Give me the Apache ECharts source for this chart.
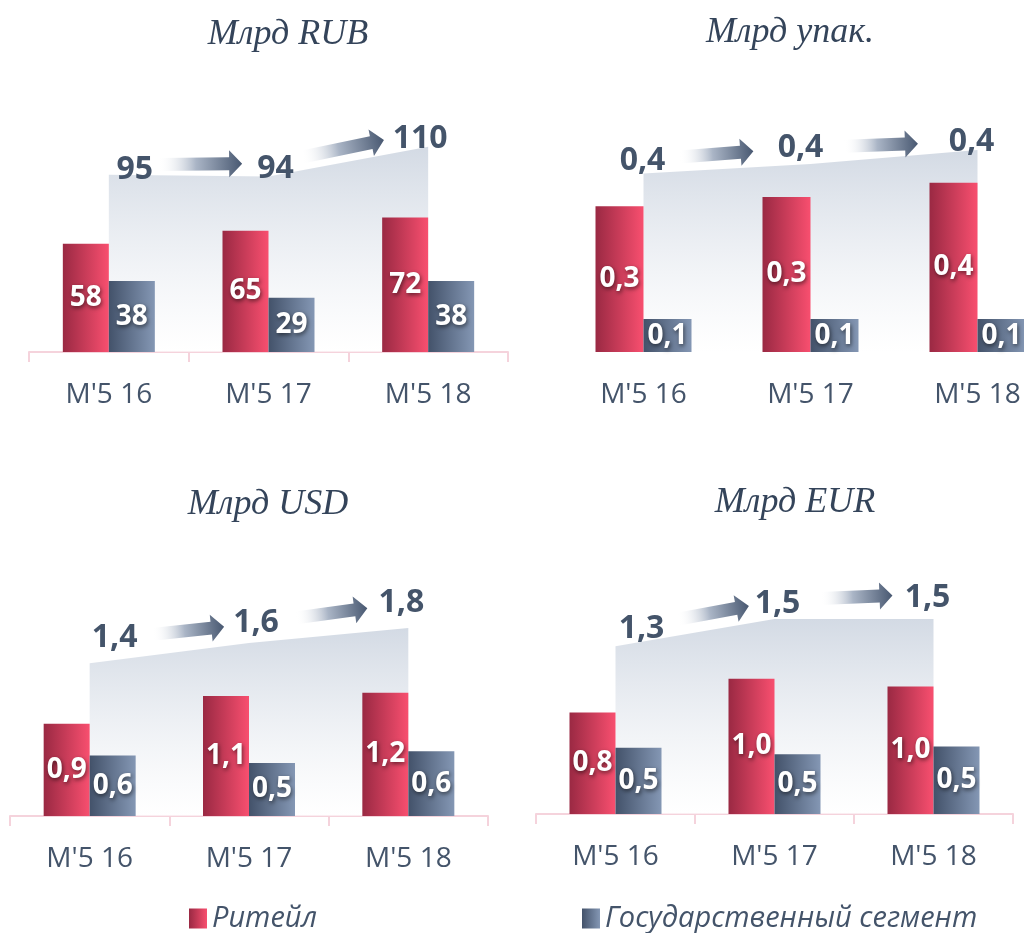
<!DOCTYPE html>
<html>
<head>
<meta charset="utf-8">
<script src="https://cdn.jsdelivr.net/npm/echarts@6/dist/echarts.min.js"></script>
<style>
  html, body { margin: 0; padding: 0; background: #fff; overflow: hidden; }
  /* чуть шире окна: правый график обрезан краем, как в оригинале */
  #chart { width: 1070px; height: 933px; }
</style>
</head>
<body>
<div id="chart"></div>
<script>
// данные
const categories = ["M'5 16", "M'5 17", "M'5 18"];

const rubRetail = [58, 65, 72];
const rubGov = [38, 29, 38];
const rubTotal = [95, 94, 110];

const packRetail = [0.31, 0.33, 0.36];
const packGov = [0.07, 0.07, 0.07];
const packTotal = [0.38, 0.40, 0.43];

const usdRetail = [0.87, 1.13, 1.16];
const usdGov = [0.57, 0.50, 0.61];
const usdTotal = [1.44, 1.63, 1.77];

const eurRetail = [0.78, 1.04, 0.98];
const eurGov = [0.51, 0.46, 0.52];
const eurTotal = [1.29, 1.50, 1.50];

const TEXT = '#44546a';
const FONT = '"Open Sans", "DejaVu Sans", sans-serif';

// раскладка четырёх графиков
const panels = [
  {
    title: 'Млрд RUB', retail: rubRetail, gov: rubGov, total: rubTotal, digits: 0,
    grid: { left: 29, top: 72, width: 479, height: 280 }, yMax: 150, barWidth: 46,
    axisLine: true, titleX: 283, titleY: 12,
    labelShift: [[26, -5], [7, -8], [-8, -8]], arrowLen: 84, arrowShift: [-5, -5],
  },
  {
    title: 'Млрд упак.', retail: packRetail, gov: packGov, total: packTotal, digits: 1,
    grid: { left: 560, top: 70, width: 501, height: 282 }, yMax: 0.6, barWidth: 48,
    axisLine: false, titleX: 785, titleY: 10,
    labelShift: [[-1, -13], [-10, -16], [-6, -8]], arrowLen: 74, arrowShift: [-5, 0],
  },
  {
    title: 'Млрд USD', retail: usdRetail, gov: usdGov, total: usdTotal, digits: 1,
    grid: { left: 10, top: 540, width: 478, height: 276 }, yMax: 2.6, barWidth: 46,
    axisLine: true, titleX: 263, titleY: 482,
    labelShift: [[25, -25], [7, -20], [-7, -25]], arrowLen: 72, arrowShift: [3, 0],
  },
  {
    title: 'Млрд EUR', retail: eurRetail, gov: eurGov, total: eurTotal, digits: 1,
    grid: { left: 536, top: 541, width: 477, height: 273 }, yMax: 2.1, barWidth: 46,
    axisLine: true, titleX: 790, titleY: 480,
    labelShift: [[26, -17], [3, -15], [-6, -21]], arrowLen: 72, arrowShift: [4, -4],
  },
];

function fmt(v, digits) {
  if (!digits) return String(Math.round(v));
  return (Math.round(v * 10) / 10).toFixed(1).replace('.', ',');
}

const red = () => new echarts.graphic.LinearGradient(0, 0, 1, 0, [
  { offset: 0, color: '#9a2943' },
  { offset: 1, color: '#f84f6f' },
]);
const slate = () => new echarts.graphic.LinearGradient(0, 0, 1, 0, [
  { offset: 0, color: '#43526a' },
  { offset: 1, color: '#8497b4' },
]);

const barLabel = (digits) => ({
  show: true,
  position: 'inside',
  formatter: (p) => fmt(p.value, digits),
  color: '#fff',
  fontFamily: FONT,
  fontWeight: 'bold',
  fontSize: 28,
  textShadowColor: 'rgba(0,0,0,0.55)',
  textShadowBlur: 4,
  textShadowOffsetX: 1,
  textShadowOffsetY: 2,
});

const myChart = echarts.init(document.getElementById('chart'));

const grid = [], xAxis = [], yAxis = [], title = [], series = [];

panels.forEach((p, i) => {
  grid.push(Object.assign({ containLabel: false }, p.grid));
  title.push({
    text: p.title,
    left: p.titleX,
    top: p.titleY,
    textAlign: 'center',
    textStyle: {
      fontFamily: '"Liberation Serif", "DejaVu Serif", serif',
      fontStyle: 'italic',
      fontWeight: 'normal',
      fontSize: 36,
      color: '#34445a',
    },
  });
  xAxis.push({
    type: 'category',
    gridIndex: i,
    data: categories,
    boundaryGap: true,
    axisLine: { show: p.axisLine, lineStyle: { color: '#f5d3dc', width: 2 } },
    axisTick: { show: p.axisLine, length: 10, lineStyle: { color: '#f5d3dc', width: 2 } },
    axisLabel: { margin: 29, color: TEXT, fontFamily: FONT, fontSize: 28 },
  });
  yAxis.push({ type: 'value', gridIndex: i, min: 0, max: p.yMax, show: false, splitLine: { show: false } });

  // серая область – итого
  series.push({
    name: 'Итого',
    type: 'line',
    xAxisIndex: i,
    yAxisIndex: i,
    z: 1,
    silent: true,
    symbol: 'circle',
    symbolSize: 1,
    itemStyle: { color: 'rgba(0,0,0,0)' },
    lineStyle: { width: 0, opacity: 0 },
    areaStyle: {
      color: new echarts.graphic.LinearGradient(0, 0, 0, 1, [
        { offset: 0, color: '#d3dae4' },
        { offset: 1, color: 'rgba(255,255,255,0.6)' },
      ]),
      opacity: 1,
    },
    label: {
      show: true,
      position: 'inside',
      formatter: (d) => fmt(d.value, p.digits),
      color: TEXT,
      fontFamily: FONT,
      fontWeight: 'bold',
      fontSize: 32,
    },
    data: p.total.map((v, k) => ({ value: v, label: { offset: p.labelShift[k] } })),
  });

  series.push({
    name: 'Ритейл',
    type: 'bar',
    xAxisIndex: i,
    yAxisIndex: i,
    z: 2,
    barWidth: p.barWidth,
    barGap: '0%',
    itemStyle: { color: red() },
    label: barLabel(p.digits),
    data: p.retail,
  });
  series.push({
    name: 'Государственный сегмент',
    type: 'bar',
    xAxisIndex: i,
    yAxisIndex: i,
    z: 2,
    barWidth: p.barWidth,
    barGap: '0%',
    itemStyle: { color: slate() },
    label: barLabel(p.digits),
    data: p.gov,
  });

  // стрелки между подписями итогов
  series.push({
    type: 'custom',
    xAxisIndex: i,
    yAxisIndex: i,
    z: 3,
    silent: true,
    clip: false,
    renderItem: (params, api) => {
      const k = params.dataIndex;
      const a = api.coord([k, p.total[k]]);
      const b = api.coord([k + 1, p.total[k + 1]]);
      const ax = a[0] + p.labelShift[k][0], ay = a[1] + p.labelShift[k][1];
      const bx = b[0] + p.labelShift[k + 1][0], by = b[1] + p.labelShift[k + 1][1];
      const cx = (ax + bx) / 2 + p.arrowShift[0];
      const cy = (ay + by) / 2 + p.arrowShift[1];
      const ang = Math.atan2(by - ay, bx - ax);
      const h = p.arrowLen / 2, head = 13, sh = 6.5, hh = 13.5;
      return {
        type: 'polygon',
        x: cx,
        y: cy,
        rotation: -ang,
        shape: {
          points: [
            [-h, -sh], [h - head, -sh], [h - head, -hh], [h, 0],
            [h - head, hh], [h - head, sh], [-h, sh],
          ],
        },
        style: {
          fill: new echarts.graphic.LinearGradient(0, 0, 1, 0, [
            { offset: 0, color: 'rgba(255,255,255,0)' },
            { offset: 0.45, color: '#aab5c6' },
            { offset: 1, color: '#485871' },
          ]),
        },
      };
    },
    data: p.total.slice(0, -1).map((v, k) => [k, v]),
  });
});

const legendText = { color: TEXT, fontFamily: FONT, fontStyle: 'italic', fontSize: 29 };

const option = {
  backgroundColor: '#fff',
  animation: false,
  title,
  grid,
  xAxis,
  yAxis,
  legend: [
    {
      data: ['Ритейл'],
      left: 189, top: 904, padding: 0, itemWidth: 18, itemHeight: 20, itemGap: 8,
      icon: 'rect', textStyle: legendText, selectedMode: false,
    },
    {
      data: ['Государственный сегмент'],
      left: 582, top: 904, padding: 0, itemWidth: 18, itemHeight: 20,
      icon: 'rect', textStyle: legendText, selectedMode: false,
    },
  ],
  series,
};

myChart.setOption(option);
</script>
</body>
</html>
